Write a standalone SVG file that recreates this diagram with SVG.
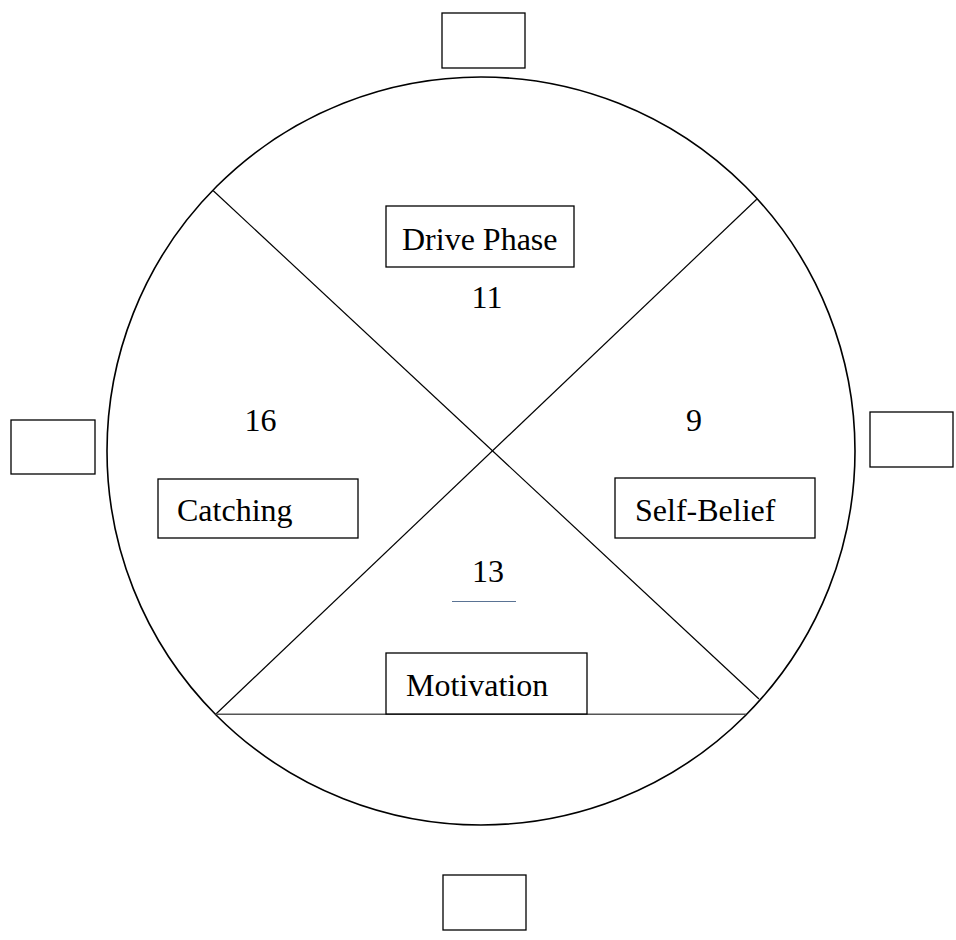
<svg xmlns="http://www.w3.org/2000/svg" width="956" height="940" viewBox="0 0 956 940">
<style>
.box{fill:#fff;stroke:#000;stroke-width:1.3}
.lbl{font-family:"Liberation Serif","Times New Roman",serif;font-size:32px;fill:#000}
.num{font-family:"Liberation Serif","Times New Roman",serif;font-size:32px;fill:#000;text-anchor:middle}
.ln{stroke:#000;stroke-width:1.2;fill:none}
</style>
<rect width="956" height="940" fill="#fff"/>
<g id="circle"><circle cx="481" cy="451" r="374" fill="none" stroke="#000" stroke-width="1.6"/></g>
<g id="connectors">
<line class="ln" x1="213.3" y1="190.7" x2="759" y2="699"/>
<line class="ln" x1="756.7" y1="199.3" x2="215.7" y2="714.3"/>
<line x1="215.7" y1="714.3" x2="746" y2="714.3" stroke="#555" stroke-width="1.4"/>
<line x1="452" y1="601.5" x2="516" y2="601.5" stroke="#5a7394" stroke-width="1.2"/>
</g>
<g id="box-top"><rect class="box" x="442" y="13" width="83" height="55"/></g>
<g id="box-bottom"><rect class="box" x="443" y="875" width="83" height="55"/></g>
<g id="box-left"><rect class="box" x="11" y="420" width="84" height="54"/></g>
<g id="box-right"><rect class="box" x="870" y="412" width="83" height="55"/></g>
<g id="drive-phase"><rect class="box" x="386" y="206" width="188" height="61"/><text class="lbl" x="402" y="250">Drive Phase</text></g>
<g id="n11"><text class="num" x="487" y="308">11</text></g>
<g id="catching"><rect class="box" x="158" y="479" width="200" height="59"/><text class="lbl" x="177" y="521">Catching</text></g>
<g id="n16"><text class="num" x="260.5" y="431">16</text></g>
<g id="self-belief"><rect class="box" x="615" y="478" width="200" height="60"/><text class="lbl" x="635" y="521">Self-Belief</text></g>
<g id="n9"><text class="num" x="694" y="431">9</text></g>
<g id="motivation"><rect class="box" x="386" y="653" width="201" height="61"/><text class="lbl" x="406" y="696">Motivation</text></g>
<g id="n13"><text class="num" x="488" y="582">13</text></g>
</svg>
